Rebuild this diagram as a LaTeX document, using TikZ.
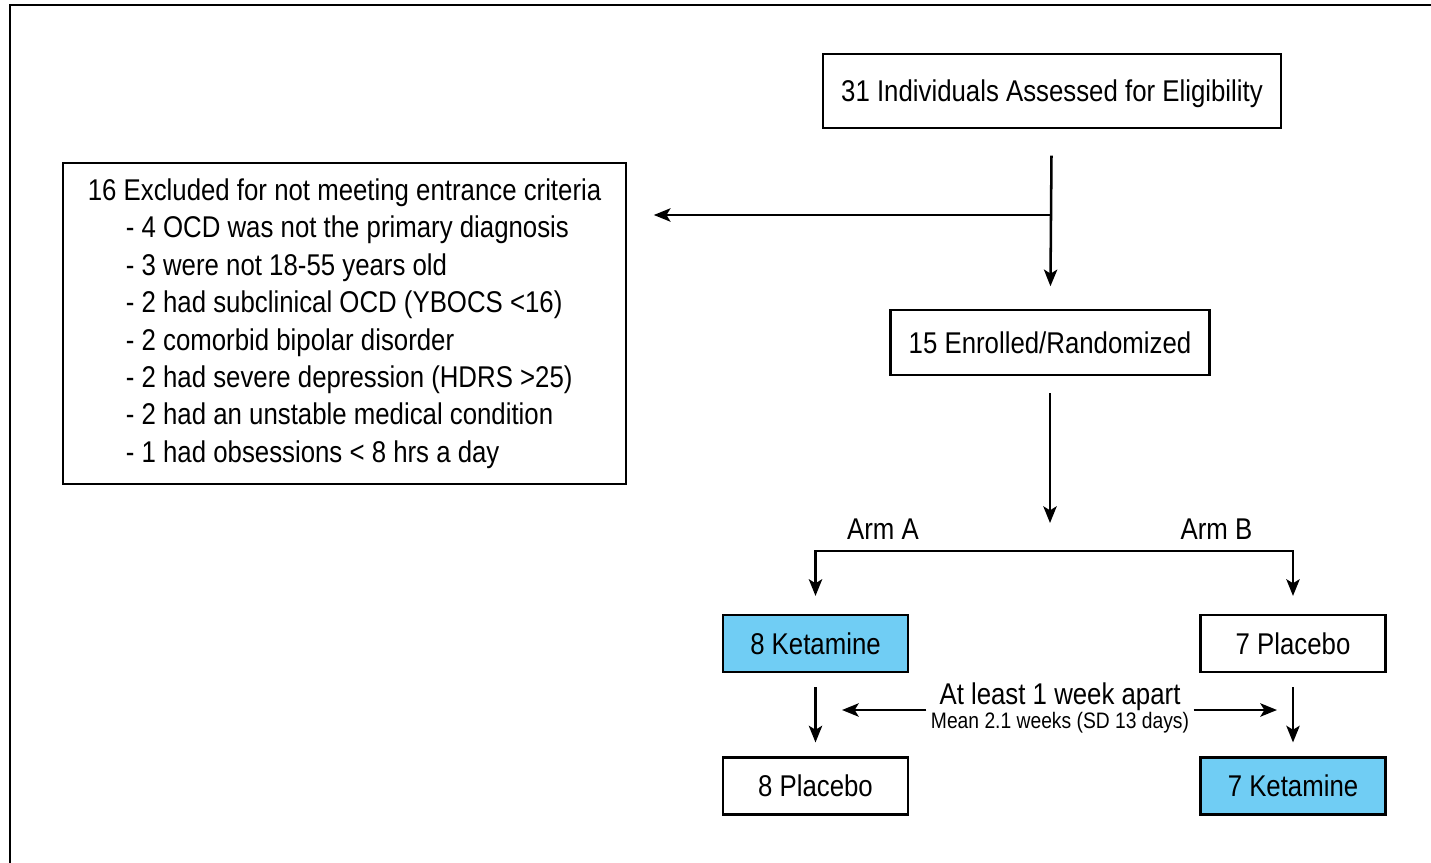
\documentclass[tikz,border=0pt]{standalone}
\usepackage{fontspec}
\setmainfont{Liberation Sans}[FakeStretch=0.86]
\usepackage{xcolor}
\usetikzlibrary{arrows.meta}

\definecolor{ketblue}{RGB}{112,205,244}

\tikzset{
  box/.style={draw, line width=1.6pt, inner sep=0pt, text depth=0pt, align=center},
  ketbox/.style={box, fill=ketblue},
  listbox/.style={draw, line width=1.6pt, inner sep=0pt, align=left},
  arr/.style={line width=1.9pt, ->},
}

\begin{document}
\begin{tikzpicture}[x=0.75pt,y=0.75pt,yscale=-1,xscale=1,
    >={Stealth[length=12.5pt,width=10pt,inset=3pt]},
    font=\fontsize{22.5}{28.1}\selectfont]
  \useasboundingbox (0,0) rectangle (1431,863);
  %Frame
  \draw [line width=1.6pt] (10,863) -- (10,5) -- (1431,5);

  %Boxes
  \node [box, minimum width=343.5pt, minimum height=55.5pt] (assess) at (1052,91) {31 Individuals Assessed for Eligibility};
  \node [listbox, anchor=north west, minimum width=422.25pt, minimum height=240.75pt] (excl) at (62,162)
    {16 Excluded for not meeting entrance criteria\\
     \hspace*{28.5pt}- 4 OCD was not the primary diagnosis\\
     \hspace*{28.5pt}- 3 were not 18-55 years old\\
     \hspace*{28.5pt}- 2 had subclinical OCD (YBOCS <16)\\
     \hspace*{28.5pt}- 2 comorbid bipolar disorder\\
     \hspace*{28.5pt}- 2 had severe depression (HDRS >25)\\
     \hspace*{28.5pt}- 2 had an unstable medical condition\\
     \hspace*{28.5pt}- 1 had obsessions < 8 hrs a day};
  \node [box, minimum width=239.25pt, minimum height=48.75pt] (enrolled) at (1050,342.5) {15 Enrolled/Randomized};
  \node [ketbox, minimum width=138.75pt, minimum height=42.75pt] (ketA) at (815.5,643.5) {8 Ketamine};
  \node [box, minimum width=138.75pt, minimum height=42.75pt] (placB) at (1293,643.5) {7 Placebo};
  \node [box, minimum width=138.75pt, minimum height=42.75pt] (placA) at (815.5,786) {8 Placebo};
  \node [ketbox, minimum width=138.75pt, minimum height=42.75pt] (ketB) at (1293,786) {7 Ketamine};

  %Labels
  \node (armA) at (883,529) {Arm A};
  \node (armB) at (1216.5,529) {Arm B};
  \node [align=center, font=\fontsize{22.5}{16.5}\selectfont] (apart) at (1060,708)
    {At least 1 week apart\\{\fontsize{16.8}{16.5}\selectfont Mean 2.1 weeks (SD 13 days)}};

  %Connectors
  \coordinate (split) at (1050,215);
  \coordinate (fork) at (1053,551);
  \coordinate (tipL) at (842,710);
  \coordinate (tipR) at (1277,710);
  \draw [arr, shorten <=20pt, shorten >=17pt] (assess) -- (enrolled);
  \draw [arr, shorten >=20pt] (split) -- (split -| excl.east);
  \draw [arr, shorten <=13pt, shorten >=21pt] (enrolled) -- (enrolled |- fork);
  \draw [arr, <->, shorten <=13.5pt, shorten >=13.5pt] (ketA.north) |- (fork) -| (placB.north);
  \draw [arr, shorten <=10.5pt, shorten >=10.5pt] (ketA) -- (placA);
  \draw [arr, shorten <=10.5pt, shorten >=10.5pt] (placB) -- (ketB);
  \draw [arr] (apart.west |- tipL) -- (tipL);
  \draw [arr] (apart.east |- tipR) -- (tipR);
\end{tikzpicture}
\end{document}
